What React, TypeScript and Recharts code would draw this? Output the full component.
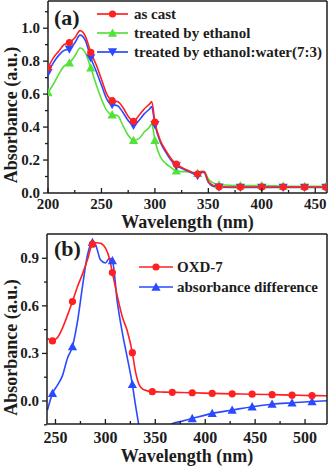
import { Legend, Line, LineChart, XAxis, YAxis } from "recharts";

// panel (a): film absorbance, wavelength in nm
const wlA = [200, 205, 210, 215, 220, 225, 230, 235, 240, 245, 250, 255, 260, 265, 270, 275, 280, 285, 290, 295, 297, 300, 305, 310, 315, 320, 325, 330, 335, 340, 343, 346, 350, 355, 360, 380, 400, 420, 440, 460];
const asCast = [0.76, 0.82, 0.86, 0.9, 0.913, 0.94, 0.985, 0.95, 0.853, 0.78, 0.69, 0.6, 0.56, 0.555, 0.52, 0.465, 0.435, 0.47, 0.51, 0.54, 0.555, 0.43, 0.32, 0.26, 0.21, 0.175, 0.155, 0.14, 0.125, 0.115, 0.13, 0.13, 0.07, 0.045, 0.038, 0.036, 0.036, 0.036, 0.035, 0.035];
const ethanol = [0.61, 0.66, 0.72, 0.77, 0.79, 0.83, 0.88, 0.85, 0.76, 0.66, 0.57, 0.5, 0.475, 0.47, 0.41, 0.35, 0.32, 0.33, 0.37, 0.4, 0.42, 0.32, 0.22, 0.18, 0.155, 0.135, 0.13, 0.13, 0.125, 0.12, 0.13, 0.13, 0.085, 0.06, 0.05, 0.045, 0.045, 0.042, 0.04, 0.04];
const ethWater = [0.73, 0.79, 0.835, 0.865, 0.873, 0.91, 0.958, 0.925, 0.82, 0.74, 0.655, 0.57, 0.536, 0.53, 0.49, 0.44, 0.41, 0.44, 0.48, 0.51, 0.524, 0.415, 0.31, 0.25, 0.2, 0.165, 0.15, 0.135, 0.12, 0.105, 0.125, 0.125, 0.065, 0.04, 0.035, 0.034, 0.034, 0.034, 0.034, 0.034];
const marksA = [200, 220, 240, 260, 280, 300, 320, 340, 360, 380, 400, 420, 440, 460];
const xMajorA = [200, 250, 300, 350, 400, 450];
const xMinorA = [225, 275, 325, 375, 425];
const yMajorA = [0, 0.2, 0.4, 0.6, 0.8, 1.0];
const yMinorA = [0.1, 0.3, 0.5, 0.7, 0.9, 1.1];

// panel (b): OXD-7 and the absorbance difference
const wlB = [242, 247, 252, 257, 262, 267, 272, 277, 282, 287, 291, 295, 300, 304, 307, 312, 317, 322, 327, 330, 334, 338, 347, 355, 360, 367, 375, 387, 407, 427, 447, 467, 487, 507, 522];
const oxd7 = [0.395, 0.379, 0.4, 0.46, 0.54, 0.627, 0.72, 0.8, 0.89, 0.989, 0.998, 0.995, 0.965, 0.9, 0.81, 0.66, 0.53, 0.44, 0.305, 0.19, 0.1, 0.072, 0.059, 0.057, 0.056, 0.055, 0.054, 0.052, 0.048, 0.045, 0.043, 0.04, 0.037, 0.034, 0.033];
const absDiff = [-0.057, 0.048, 0.1, 0.16, 0.27, 0.343, 0.5, 0.72, 0.92, 1.0, 0.97, 0.89, 0.87, 0.9, 0.885, 0.62, 0.43, 0.27, 0.105, -0.02, -0.17, -0.3, -0.45, -0.35, -0.2, -0.143, -0.13, -0.11, -0.078, -0.057, -0.036, -0.02, -0.011, -0.003, 0.002];
const marksOxd = [247, 267, 287, 307, 327, 347, 367, 387, 407, 427, 447, 467, 487, 507];
const marksDiff = [247, 267, 287, 307, 327, 387, 407, 427, 447, 467, 487, 507];
const xMajorB = [250, 300, 350, 400, 450, 500];
const xMinorB = [275, 325, 375, 425, 475];
const yMajorB = [0, 0.3, 0.6, 0.9];
const yMinorB = [-0.15, 0.15, 0.45, 0.75];

const FONT = "'Liberation Serif', 'Times New Roman', serif";
const INK = "#1c1c1c";
const RED = "#ff2020";
const GREEN = "#52e23a";
const BLUE = "#2b49ff";

const rowsA = wlA.map((wl, i) => ({ wl, asCast: asCast[i], ethanol: ethanol[i], ethWater: ethWater[i] }));
const rowsB = wlB.map((wl, i) => ({ wl, oxd7: oxd7[i], absDiff: absDiff[i] }));

type Kind = "circle" | "up" | "down";

function Marker({ kind, cx, cy, color }: { kind: Kind; cx: number; cy: number; color: string }) {
  if (kind === "circle") return <circle cx={cx} cy={cy} r={3.6} fill={color} />;
  const s = 4.6;
  const pts =
    kind === "up"
      ? `${cx},${cy - s} ${cx - s},${cy + s * 0.8} ${cx + s},${cy + s * 0.8}`
      : `${cx},${cy + s} ${cx - s},${cy - s * 0.8} ${cx + s},${cy - s * 0.8}`;
  return <polygon points={pts} fill={color} />;
}

const dotFor = (kind: Kind, color: string, marks: number[]) => (p: any) => {
  if (!marks.includes(p.payload.wl) || p.cy == null) return <g key={p.index} />;
  return <Marker key={p.index} kind={kind} cx={p.cx} cy={p.cy} color={color} />;
};

const isMajor = (majors: number[], v: number) => majors.some((m) => Math.abs(m - v) < 1e-6);

const xTick = (majors: number[], dy: number, size: number) => (p: any) => {
  const major = isMajor(majors, p.payload.value);
  return (
    <g key={p.index}>
      <line x1={p.x} x2={p.x} y1={p.y} y2={p.y - (major ? 5 : 3)} stroke={INK} strokeWidth={1.3} />
      {major && (
        <text x={p.x} y={p.y + dy} textAnchor="middle" fontFamily={FONT} fontWeight="bold" fontSize={size} fill={INK}>
          {p.payload.value}
        </text>
      )}
    </g>
  );
};

const yTick = (majors: number[]) => (p: any) => {
  const major = isMajor(majors, p.payload.value);
  return (
    <g key={p.index}>
      <line x1={p.x} x2={p.x - (major ? 5 : 3)} y1={p.y} y2={p.y} stroke={INK} strokeWidth={1.3} />
      {major && (
        <text x={p.x - 8} y={p.y + 5} textAnchor="end" fontFamily={FONT} fontWeight="bold" fontSize={15} fill={INK}>
          {Number(p.payload.value).toFixed(1)}
        </text>
      )}
    </g>
  );
};

function LegendBox({ items, lineLen, textX, rowH }: { items: { label: string; color: string; kind: Kind }[]; lineLen: number; textX: number; rowH: number }) {
  return (
    <svg width={240} height={items.length * rowH + 6}>
      {items.map((it, i) => {
        const y = 9 + i * rowH;
        return (
          <g key={it.label}>
            <line x1={2} x2={2 + lineLen} y1={y} y2={y} stroke={it.color} strokeWidth={1.7} />
            <Marker kind={it.kind} cx={2 + lineLen / 2} cy={y} color={it.color} />
            <text x={textX} y={y + 5} fontFamily={FONT} fontWeight="bold" fontSize={15} fill={INK}>
              {it.label}
            </text>
          </g>
        );
      })}
    </svg>
  );
}

const axisLine = { stroke: INK, strokeWidth: 1.5 };
const labelStyle = { fontFamily: FONT, fontWeight: "bold", fontSize: 18, fill: INK };

export default function App() {
  return (
    <div style={{ position: "relative", width: 329, height: 467, background: "#fff" }}>
      <style>{"body{margin:0}"}</style>

      <div style={{ position: "absolute", left: 0, top: 0 }}>
        <LineChart width={329} height={235} data={rowsA} margin={{ top: 0, right: 1, bottom: 0, left: 0 }}>
          <XAxis
            dataKey="wl"
            type="number"
            domain={[200, 461]}
            allowDataOverflow
            ticks={[...xMajorA, ...xMinorA]}
            interval={0}
            height={42}
            tickSize={0}
            tickMargin={0}
            tickLine={false}
            axisLine={axisLine}
            tick={xTick(xMajorA, 16, 15)}
            label={{ value: "Wavelength (nm)", position: "insideBottom", offset: 7, ...labelStyle }}
          />
          <XAxis xAxisId="top" orientation="top" type="number" domain={[200, 461]} height={1} tick={false} tickLine={false} axisLine={axisLine} />
          <YAxis
            type="number"
            domain={[0, 1.165]}
            allowDataOverflow
            ticks={[...yMajorA, ...yMinorA]}
            interval={0}
            width={48}
            tickSize={0}
            tickMargin={0}
            tickLine={false}
            axisLine={axisLine}
            tick={yTick(yMajorA)}
            label={{ value: "Absorbance (a.u.)", angle: -90, position: "center", dx: -13.5, dy: 18, ...labelStyle }}
          />
          <YAxis yAxisId="right" orientation="right" type="number" domain={[0, 1]} width={1} tick={false} tickLine={false} axisLine={axisLine} />
          <Line dataKey="ethanol" type="monotone" stroke={GREEN} strokeWidth={1.6} dot={dotFor("up", GREEN, marksA)} isAnimationActive={false} />
          <Line dataKey="ethWater" type="monotone" stroke={BLUE} strokeWidth={1.6} dot={dotFor("down", BLUE, marksA)} isAnimationActive={false} />
          <Line dataKey="asCast" type="monotone" stroke={RED} strokeWidth={1.6} dot={dotFor("circle", RED, marksA)} isAnimationActive={false} />
          <Legend
            layout="vertical"
            verticalAlign="middle"
            align="center"
            wrapperStyle={{ top: 5, left: 95, width: 240 }}
            content={() => (
              <LegendBox
                lineLen={31}
                textX={39}
                rowH={19}
                items={[
                  { label: "as cast", color: RED, kind: "circle" },
                  { label: "treated by ethanol", color: GREEN, kind: "up" },
                  { label: "treated by ethanol:water(7:3)", color: BLUE, kind: "down" },
                ]}
              />
            )}
          />
        </LineChart>
        <svg style={{ position: "absolute", left: 0, top: 0, pointerEvents: "none" }} width={100} height={40}>
          <text x={54} y={25} fontFamily={FONT} fontWeight="bold" fontSize={22} fill={INK}>(a)</text>
        </svg>
      </div>

      <div style={{ position: "absolute", left: 0, top: 230 }}>
        <LineChart width={329} height={237} data={rowsB} margin={{ top: 3, right: 1, bottom: 0, left: 0 }}>
          <XAxis
            dataKey="wl"
            type="number"
            domain={[241.5, 522]}
            allowDataOverflow
            ticks={[...xMajorB, ...xMinorB]}
            interval={0}
            height={43}
            tickSize={0}
            tickMargin={0}
            tickLine={false}
            axisLine={axisLine}
            tick={xTick(xMajorB, 19, 16)}
            label={{ value: "Wavelength (nm)", position: "insideBottom", offset: 5, ...labelStyle }}
          />
          <XAxis xAxisId="top" orientation="top" type="number" domain={[241.5, 522]} height={1} tick={false} tickLine={false} axisLine={axisLine} />
          <YAxis
            type="number"
            domain={[-0.145, 1.053]}
            allowDataOverflow
            ticks={[...yMajorB, ...yMinorB]}
            interval={0}
            width={47}
            tickSize={0}
            tickMargin={0}
            tickLine={false}
            axisLine={axisLine}
            tick={yTick(yMajorB)}
            label={{ value: "Absorbance (a.u.)", angle: -90, position: "center", dx: -13, dy: 18.5, ...labelStyle }}
          />
          <YAxis yAxisId="right" orientation="right" type="number" domain={[0, 1]} width={1} tick={false} tickLine={false} axisLine={axisLine} />
          <Line dataKey="absDiff" type="monotone" stroke={BLUE} strokeWidth={1.6} dot={dotFor("up", BLUE, marksDiff)} isAnimationActive={false} />
          <Line dataKey="oxd7" type="monotone" stroke={RED} strokeWidth={1.6} dot={dotFor("circle", RED, marksOxd)} isAnimationActive={false} />
          <Legend
            layout="vertical"
            verticalAlign="middle"
            align="center"
            wrapperStyle={{ top: 28, left: 137, width: 240 }}
            content={() => (
              <LegendBox
                lineLen={34}
                textX={40}
                rowH={20}
                items={[
                  { label: "OXD-7", color: RED, kind: "circle" },
                  { label: "absorbance difference", color: BLUE, kind: "up" },
                ]}
              />
            )}
          />
        </LineChart>
        <svg style={{ position: "absolute", left: 0, top: 0, pointerEvents: "none" }} width={100} height={40}>
          <text x={54} y={26} fontFamily={FONT} fontWeight="bold" fontSize={22} fill={INK}>(b)</text>
        </svg>
      </div>
    </div>
  );
}
